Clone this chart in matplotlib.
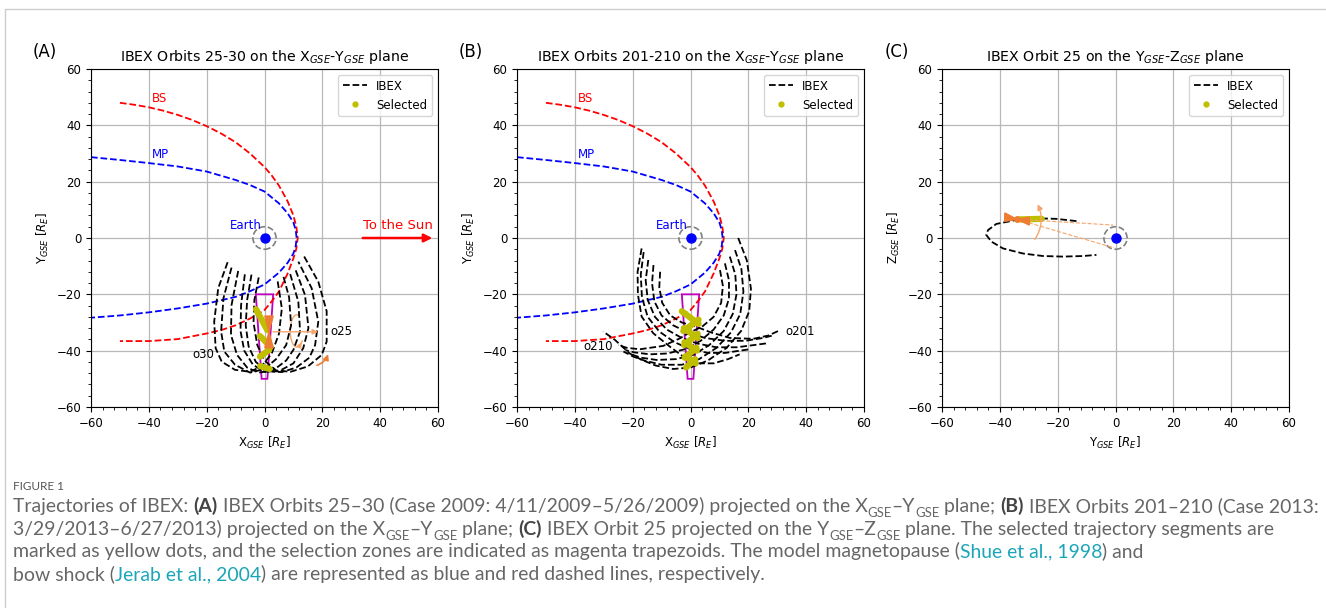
"""
IBEX orbits projected on GSE planes (three panels) with figure caption
"""
import matplotlib
matplotlib.use('Agg')
import matplotlib.pyplot as plt
from matplotlib.lines import Line2D
from matplotlib.patches import Circle, Polygon, Arc
from matplotlib.ticker import MultipleLocator

# ---- model boundaries ----
bs_x = [-50, -45, -40, -35, -30, -25, -20, -15, -10, -5, 0, 2.5, 5, 8, 10, 11, 11.5, 11, 10, 8, 5, 2.5, 0,
        -5, -10, -15, -20, -30, -40, -50]
bs_y = [48, 47.3, 46.4, 45.2, 43.7, 41.9, 39.7, 37.1, 34.0, 30.0, 25.2, 22.2, 18.6, 13.0, 8.0, 4.0, 0,
        -3.8, -7.2, -12.6, -19, -22.5, -25.6, -28.6, -31, -32.7, -33.9, -35.9, -36.6, -36.6]
mp_x = [-60, -50, -40, -30, -20, -10, -5, 0, 5, 8, 10, 10.8, 11.1, 10.8, 10, 8, 5, 0, -5, -10, -20, -30,
        -40, -50, -60]
mp_y = [28.7, 27.7, 26.6, 25.4, 23.6, 20.6, 18.8, 16.5, 12.3, 8.8, 5.5, 2.8, 0, -2.8, -5.5, -8.8, -12.3,
        -16.5, -18.9, -20.9, -23.3, -25.0, -26.4, -27.5, -28.3]

# ---- panel A: orbits 25-30 (x, y) ----
orbits_a = {
    'o25': [(-2, -14), (-3.5, -22), (-3.8, -30), (-2.5, -38), (0, -43.5), (4, -47), (9, -47.5),
            (15, -45.6), (19.8, -41.5), (21.5, -36.8), (21.5, -26), (18.6, -15.5), (13.4, -6)],
    'o26': [(-4.5, -13), (-6, -22), (-6.5, -31), (-5.5, -38.5), (-3, -44), (1, -47.3), (6, -47.6),
            (11, -46), (15.5, -42.5), (17.5, -38), (18.6, -29.7), (16.3, -17.8), (11.7, -8.4)],
    'o27': [(-6.8, -12.9), (-8.1, -23.8), (-8.3, -33), (-7, -40), (-4, -45), (0, -47.5), (5, -47.3),
            (10, -44.5), (13.4, -39.1), (15.2, -32), (14, -20.2), (10.5, -10.7)],
    'o28': [(-9.1, -11.7), (-11.4, -23.8), (-11.6, -34.4), (-9.5, -41.5), (-6, -46), (-2, -47.8),
            (3, -47), (7.5, -43.5), (10, -39.7), (12.3, -33.2), (11.7, -22.6), (8.8, -12.5)],
    'o29': [(-11.4, -10.5), (-14.2, -21.4), (-15, -33.2), (-13.9, -40.3), (-10.2, -45), (-5, -47.8),
            (0, -46.5), (4, -43), (7.5, -38), (9.2, -31), (8.5, -21), (6.5, -13.5)],
    'o30': [(-12.75, -8.6), (-16, -17.8), (-17.4, -29.7), (-16.9, -39.1), (-14.8, -43.9), (-10.2, -46.8),
            (-5, -47.5), (-1, -45.5), (2.5, -41), (5, -34), (6, -25), (4.5, -15)],
}
selected_a = [[(-2.95, -25.3), (0.97, -32.7)], [(-1.56, -34.8), (2.1, -38.6)],
              [(1.65, -39.7), (-1.56, -42.1)], [(-1.5, -45.5), (1.8, -46.5)]]

# ---- panel B: orbits 201-210 (x, y) ----
orbits_b = {
    'o201': [(-10.5, -12), (-10.8, -17.5), (-9.8, -23), (-7, -27.5), (-3, -30), (2, -31.5), (7, -33.5),
             (13.7, -35.5), (21.7, -35.8), (27, -34.6), (31, -32.7)],
    'o202': [(-12.8, -9.6), (-13.3, -16), (-12.5, -22.5), (-10, -27.5), (-6, -31), (-1, -33.5), (5, -35.5),
             (12, -36.5), (19, -36.5), (25, -35.5), (28.5, -34.6)],
    'o203': [(-14.6, -7.8), (-15.5, -15), (-14.8, -22), (-12.3, -28), (-8.2, -32.5), (-3, -35.5),
             (2.5, -37.5), (9, -38.8), (16, -38.8), (22, -38), (26.3, -37.4)],
    'o204': [(-16.2, -5), (-17.2, -13), (-16.8, -21), (-14.8, -28), (-10.8, -33.2), (-5.5, -37), (0, -39.5),
             (6, -40.8), (12, -40.8), (17, -40), (20.5, -39.5)],
    'o205': [(-16.9, -3.7), (-18.3, -12), (-18.2, -20), (-16.9, -27.9), (-12.9, -33.8), (-7.1, -38.6),
             (-2, -42.5), (3, -44.5), (8, -44.5), (13, -43), (17, -41.3)],
    'o206': [(16.5, 0), (19.5, -8), (20.9, -18), (20.3, -26), (17.5, -33), (12.5, -39), (6, -43.5), (0, -46),
             (-6, -46.5), (-12, -45.3), (-17, -43.2), (-21, -41), (-26.1, -36.2), (-30.2, -33.2)],
    'o207': [(15.4, -4.3), (17.6, -11), (18.3, -19), (17.2, -27), (14, -33.5), (9, -39), (3, -43), (-3, -45),
             (-10, -45), (-16, -43.5), (-19.8, -42.1), (-23.2, -40.3)],
    'o208': [(13.6, -6.6), (15.5, -13), (15.9, -20), (14.6, -27), (11.5, -33), (6.5, -38), (1, -41.5),
             (-5, -43), (-11.7, -43.3), (-17, -42.5), (-20, -41.5)],
    'o209': [(11.9, -9), (13.3, -15), (13.3, -21.5), (11.5, -27.5), (8, -32.5), (3.5, -36.5), (-2, -39.5),
             (-8, -41), (-14, -41.3), (-19.5, -40.6), (-22.5, -39.8)],
    'o210': [(10.2, -11.4), (11.2, -17), (10.6, -23), (8, -28), (4, -31.5), (-0.2, -33.5), (-3.6, -35.6),
             (-9.4, -38.3), (-17.5, -39.5), (-22, -39), (-25, -38)],
}
selected_b = [[(-3, -26), (2.8, -30.5)], [(2.8, -29), (-2.5, -33)], [(-2.3, -32), (2.5, -35.5)],
              [(2.5, -34), (-2.2, -38)], [(-2.1, -37), (2.2, -40)], [(2.1, -39), (-2, -42.5)],
              [(-1.8, -42), (1.8, -44.5)], [(1.6, -43), (-1.5, -46)]]

# ---- panel C: orbit 25 (y, z) ----
orbit_c_y = [-13.5, -20.5, -27.4, -34.3, -41.2, -44.1, -44.7, -42.9, -38.9, -32, -25.1, -18.2, -11.2, -6.6]
orbit_c_z = [6.0, 6.8, 7.0, 6.4, 5.0, 2.8, 1.1, -1.3, -3.7, -5.5, -6.4, -6.6, -6.4, -6.0]
selected_c_y = [-33, -25.5]
selected_c_z = [6.6, 6.8]

ORANGE = '#ee7d33'
LIGHT = '#f5a56c'
OLIVE = 'y'

fig = plt.figure(figsize=(13.26, 6.08), dpi=100)
FW, FH = 1326, 608


def new_axes(left_px):
    ax = fig.add_axes([left_px / FW, (FH - 407) / FH, 347 / FW, 338 / FH])
    ax.set_xlim(-60, 60)
    ax.set_ylim(-60, 60)
    ax.set_xticks(range(-60, 61, 20))
    ax.set_yticks(range(-60, 61, 20))
    ax.xaxis.set_minor_locator(MultipleLocator(4))
    ax.yaxis.set_minor_locator(MultipleLocator(4))
    ax.tick_params(labelsize=8.5)
    ax.grid(True, color='#b8b8b8', lw=0.9)
    ax.set_axisbelow(True)
    return ax


def earth(ax, label=True):
    ax.add_patch(Circle((0, 0), 4, fill=False, ls='--', color='grey', lw=1.2))
    ax.plot(0, 0, 'o', color='b', ms=6.5)
    if label:
        ax.text(-1, 2.3, 'Earth', color='b', fontsize=8.5, ha='right', va='bottom')


def boundaries(ax):
    ax.plot(bs_x, bs_y, '--', color='r', lw=1.3)
    ax.plot(mp_x, mp_y, '--', color='b', lw=1.3)
    ax.text(-39, 49.5, 'BS', color='r', fontsize=8.5, va='center')
    ax.text(-39, 29.5, 'MP', color='b', fontsize=8.5, va='center')


def trapezoid(ax):
    ax.add_patch(Polygon([(-3, -20), (3, -20), (1, -50), (-1, -50)], closed=True, fill=False,
                         ec='m', lw=1.3))


def orbits(ax, orb):
    for pts in orb.values():
        ax.plot([p[0] for p in pts], [p[1] for p in pts], '--', color='k', lw=1.3)


def selected(ax, segs):
    for seg in segs:
        ax.plot([p[0] for p in seg], [p[1] for p in seg], '-', color=OLIVE, lw=4.5,
                solid_capstyle='round')


def add_legend(ax):
    h = [Line2D([], [], color='k', ls='--', lw=1.3),
         Line2D([], [], color=OLIVE, marker='o', ls='none', ms=3.5)]
    ax.legend(h, ['IBEX', 'Selected'], loc='upper right', fontsize=8.5)


# Panel A
ax = new_axes(91)
boundaries(ax)
orbits(ax, orbits_a)
trapezoid(ax)
selected(ax, selected_a)
earth(ax)
ax.text(22.8, -33.3, 'o25', fontsize=8.5, va='center')
ax.text(-17.3, -41.3, 'o30', fontsize=8.5, va='center', ha='right')
ax.annotate('', xy=(59, 0), xytext=(33, 0),
            arrowprops=dict(arrowstyle='-|>', color='r', lw=1.8, mutation_scale=12))
ax.text(46.3, 2.3, 'To the Sun', color='r', fontsize=9.5, ha='center', va='bottom')
# spacecraft orientation sketch
ax.add_patch(Polygon([(1.55, -33.3), (0.1, -27.7), (3.0, -27.7)], closed=True, color=ORANGE, zorder=4))
ax.add_patch(Polygon([(1.55, -33.3), (0.1, -39), (3.0, -39)], closed=True, color=ORANGE, zorder=4))
ax.annotate('', xy=(19.5, -33.3), xytext=(2, -33.3),
            arrowprops=dict(arrowstyle='-|>', color=LIGHT, lw=1, mutation_scale=8))
ax.add_patch(Arc((11.2, -33), 4.6, 11.5, theta1=80, theta2=300, color=LIGHT, lw=1))
ax.annotate('', xy=(13.3, -36.2), xytext=(12.3, -38),
            arrowprops=dict(arrowstyle='-|>', color=LIGHT, lw=1, mutation_scale=7))
ax.annotate('', xy=(22.3, -40.3), xytext=(17.2, -45.5),
            arrowprops=dict(arrowstyle='-|>', color=ORANGE, lw=1.2, mutation_scale=8,
                            connectionstyle='arc3,rad=0.3'))
add_legend(ax)
ax.set_title(r'IBEX Orbits 25-30 on the X$_{GSE}$-Y$_{GSE}$ plane', fontsize=10.2)
ax.set_xlabel(r'X$_{GSE}$ [$R_E$]', fontsize=8.5)
ax.set_ylabel(r'Y$_{GSE}$ [$R_E$]', fontsize=8.5)

# Panel B
ax = new_axes(517)
boundaries(ax)
orbits(ax, orbits_b)
trapezoid(ax)
selected(ax, selected_b)
earth(ax)
ax.text(32.8, -33.3, 'o201', fontsize=8.5, va='center')
ax.text(-26.8, -38.6, 'o210', fontsize=8.5, va='center', ha='right')
add_legend(ax)
ax.set_title(r'IBEX Orbits 201-210 on the X$_{GSE}$-Y$_{GSE}$ plane', fontsize=10.2)
ax.set_xlabel(r'X$_{GSE}$ [$R_E$]', fontsize=8.5)
ax.set_ylabel(r'Y$_{GSE}$ [$R_E$]', fontsize=8.5)

# Panel C
ax = new_axes(942)
ax.plot(orbit_c_y, orbit_c_z, '--', color='k', lw=1.3)
ax.plot(selected_c_y, selected_c_z, '-', color=OLIVE, lw=4.5, solid_capstyle='round')
earth(ax, label=False)
ax.plot([-30, -0.8], [6.4, 4.6], '--', color=LIGHT, lw=0.8)
ax.plot([-30, -0.5], [5.4, -3.5], '--', color=LIGHT, lw=0.8)
ax.add_patch(Polygon([(-34, 6.6), (-38.3, 8.9), (-38.3, 5.9)], closed=True, color=ORANGE, zorder=4))
ax.add_patch(Polygon([(-34, 6.6), (-29.8, 7.4), (-29.8, 4.6)], closed=True, color=ORANGE, zorder=4))
ax.plot(-34, 6.6, 'o', color=ORANGE, ms=4, zorder=4)
ax.annotate('', xy=(-27.3, 12.9), xytext=(-28.4, -1.3),
            arrowprops=dict(arrowstyle='-|>', color=LIGHT, lw=1, mutation_scale=8,
                            connectionstyle='arc3,rad=0.3'))
add_legend(ax)
ax.set_title(r'IBEX Orbit 25 on the Y$_{GSE}$-Z$_{GSE}$ plane', fontsize=10.2)
ax.set_xlabel(r'Y$_{GSE}$ [$R_E$]', fontsize=8.5)
ax.set_ylabel(r'Z$_{GSE}$ [$R_E$]', fontsize=8.5)

# panel letters
for xp, s in [(33, '(A)'), (459, '(B)'), (885, '(C)')]:
    fig.text(xp / FW, 1 - 52 / FH, s, fontsize=12, va='center')

# frame of the page
fig.add_artist(Line2D([4.5 / FW, 4.5 / FW, 1], [0, 1 - 8.5 / FH, 1 - 8.5 / FH],
                      transform=fig.transFigure, color='#cccccc', lw=1))

# ---- caption ----
CAP_FONT = ['Lato', 'DejaVu Sans']
CAP_GREY = '#666666'
LINK = '#1ba6b8'
caption = [
    [("Trajectories of IBEX: ", 'n'), ("(A)", 'b'),
     (" IBEX Orbits 25\u201330 (Case 2009: 4/11/2009\u20135/26/2009) projected on the X", 'n'),
     ("GSE", 's'), ("\u2013Y", 'n'), ("GSE", 's'), (" plane; ", 'n'), ("(B)", 'b'),
     (" IBEX Orbits 201\u2013210 (Case 2013:", 'n')],
    [("3/29/2013\u20136/27/2013) projected on the X", 'n'), ("GSE", 's'), ("\u2013Y", 'n'), ("GSE", 's'),
     (" plane; ", 'n'), ("(C)", 'b'), (" IBEX Orbit 25 projected on the Y", 'n'), ("GSE", 's'),
     ("\u2013Z", 'n'), ("GSE", 's'), (" plane. The selected trajectory segments are", 'n')],
    [("marked as yellow dots, and the selection zones are indicated as magenta trapezoids. "
      "The model magnetopause (", 'n'), ("Shue et al., 1998", 'l'), (") and", 'n')],
    [("bow shock (", 'n'), ("Jerab et al., 2004", 'l'),
     (") are represented as blue and red dashed lines, respectively.", 'n')],
]
baselines = [512, 535, 557, 580]
renderer = fig.canvas.get_renderer()


def piece_kw(kind, fs):
    kw = dict(fontsize=fs, color=CAP_GREY, family=CAP_FONT, va='baseline')
    if kind == 'b':
        kw['weight'] = 'bold'
        kw['color'] = '#444444'
    elif kind == 'l':
        kw['color'] = LINK
    elif kind == 's':
        kw['fontsize'] = fs * 0.68
    return kw


def text_w(s, kw):
    t1 = fig.text(0, 0, s + '|', **kw)
    t2 = fig.text(0, 0, '|', **kw)
    w = t1.get_window_extent(renderer).width - t2.get_window_extent(renderer).width
    t1.remove()
    t2.remove()
    return w


fs = 10
w1 = sum(text_w(s, piece_kw(k, fs)) for s, k in caption[0])
fs = fs * 1306 / w1

for line, base in zip(caption, baselines):
    x = 13
    for s, k in line:
        kw = piece_kw(k, fs)
        dy = -fs * 0.28 * 100 / 72 if k == 's' else 0
        fig.text(x / FW, 1 - (base - dy) / FH, s, **kw)
        x += text_w(s, kw)

fig.text(13 / FW, 1 - 490 / FH, 'FIGURE 1', fontsize=8.5, color='#555555', family=CAP_FONT,
         va='baseline')

fig.savefig('out.png', dpi=100)
